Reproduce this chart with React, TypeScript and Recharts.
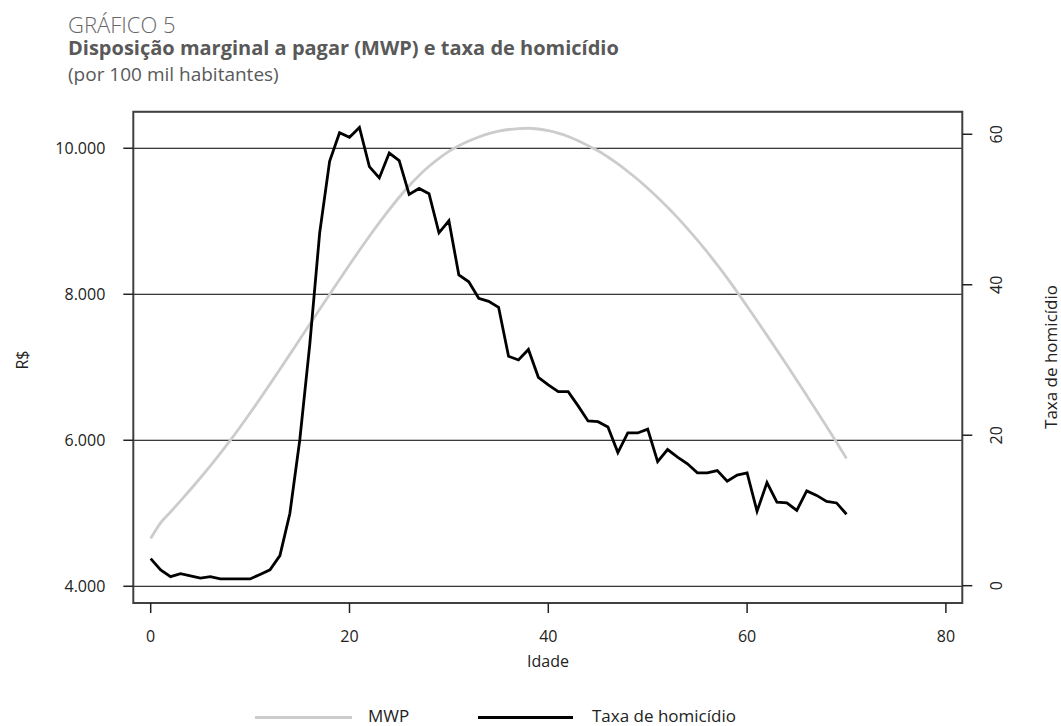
import React from 'react'
import {
  ComposedChart,
  Line,
  XAxis,
  YAxis,
  CartesianGrid,
  ReferenceArea,
} from 'recharts'

// idade (anos)
const ages = [
  0, 1, 2, 3, 4, 5, 6, 7, 8, 9, 10, 11, 12, 13, 14, 15, 16, 17, 18, 19, 20,
  21, 22, 23, 24, 25, 26, 27, 28, 29, 30, 31, 32, 33, 34, 35, 36, 37, 38, 39, 40,
  41, 42, 43, 44, 45, 46, 47, 48, 49, 50, 51, 52, 53, 54, 55, 56, 57, 58, 59, 60,
  61, 62, 63, 64, 65, 66, 67, 68, 69, 70,
]

// disposição marginal a pagar, R$
const mwp = [
  4654, 4868, 5018, 5170, 5326, 5486, 5650, 5820, 5998, 6182, 6373,
  6569, 6769, 6972, 7177, 7383, 7589, 7794, 7998, 8202, 8404,
  8602, 8795, 8981, 9159, 9329, 9487, 9628, 9753, 9863, 9958,
  10035, 10100, 10155, 10200, 10234, 10257, 10270, 10274, 10264, 10242,
  10208, 10162, 10104, 10035, 9967, 9880, 9785, 9682, 9572, 9453,
  9327, 9192, 9050, 8900, 8742, 8576, 8402, 8221, 8031, 7835,
  7637, 7437, 7235, 7030, 6823, 6613, 6402, 6188, 5972, 5750,
]

// taxa de homicídio por 100 mil habitantes
const taxa = [
  3.6, 2.1, 1.2, 1.6, 1.3, 1.0, 1.2, 0.9, 0.9, 0.9, 0.9,
  1.5, 2.1, 4.0, 9.6, 19.4, 32.0, 46.9, 56.4, 60.2, 59.6,
  60.9, 55.7, 54.2, 57.5, 56.5, 52.0, 52.8, 52.1, 46.9, 48.5,
  41.3, 40.4, 38.2, 37.8, 37.0, 30.5, 30.0, 31.4, 27.7, 26.7,
  25.8, 25.8, 23.9, 21.9, 21.8, 21.1, 17.7, 20.3, 20.3, 20.8,
  16.5, 18.1, 17.1, 16.2, 15.0, 15.0, 15.3, 13.9, 14.7, 15.0,
  9.9, 13.7, 11.1, 11.0, 10.0, 12.6, 12.0, 11.2, 11.0, 9.5,
]

const xTicks = [0, 20, 40, 60, 80]
const leftTicks = [4000, 6000, 8000, 10000]
const rightTicks = [0, 20, 40, 60]

const xDomain = [-1.75, 81.65]
const leftDomain = [3771, 10501]
const rightDomain = [-2.3, 63.0]

const data = ages.map((age, i) => ({ age, mwp: mwp[i], taxa: taxa[i] }))

const fmt = (v: number) => String(v).replace(/\B(?=(\d{3})+(?!\d))/g, '.')

const FONT = '"Open Sans", "Noto Sans", sans-serif'

function RightTick(props: any) {
  const { x, y, payload } = props
  const cx = x + 24
  return (
    <text
      x={cx}
      y={y}
      transform={`rotate(-90, ${cx}, ${y})`}
      textAnchor="middle"
      dominantBaseline="central"
      fontSize={16}
      fill="#222"
      fontFamily={FONT}
    >
      {payload.value}
    </text>
  )
}

export default function App() {
  return (
    <div
      style={{
        position: 'absolute',
        left: 0,
        top: 0,
        width: 1061,
        height: 726,
        background: '#fff',
        fontFamily: FONT,
        overflow: 'hidden',
      }}
    >
      <div style={{ position: 'absolute', left: 68, top: 13.2, fontSize: 22, lineHeight: 1, color: '#666', fontWeight: 300, whiteSpace: 'nowrap' }}>
        GRÁFICO 5
      </div>
      <div style={{ position: 'absolute', left: 68, top: 37.5, fontSize: 20, lineHeight: 1, color: '#595959', fontWeight: 700, whiteSpace: 'nowrap' }}>
        Disposição marginal a pagar (MWP) e taxa de homicídio
      </div>
      <div style={{ position: 'absolute', left: 68, top: 65, fontSize: 19, lineHeight: 1, color: '#595959', whiteSpace: 'nowrap' }}>
        (por 100 mil habitantes)
      </div>

      <div style={{ position: 'absolute', left: 0, top: 0 }}>
        <ComposedChart
          width={1061}
          height={726}
          data={data}
          margin={{ top: 111.7, right: 18.7, bottom: 83, left: 53.3 }}
        >
          <CartesianGrid yAxisId="left" vertical={false} stroke="#000" strokeWidth={1} />
          <XAxis
            dataKey="age"
            type="number"
            domain={xDomain}
            ticks={xTicks}
            allowDataOverflow
            axisLine={false}
            tickLine={{ stroke: '#222', strokeWidth: 1.5 }}
            tickSize={10}
            tickMargin={18}
            height={40}
            tick={{ fontSize: 16, fill: '#222', fontFamily: FONT }}
          />
          <YAxis
            yAxisId="left"
            orientation="left"
            type="number"
            domain={leftDomain}
            ticks={leftTicks}
            allowDataOverflow
            width={80}
            axisLine={false}
            tickLine={{ stroke: '#222', strokeWidth: 1.5 }}
            tickSize={10}
            tickMargin={18}
            tickFormatter={fmt}
            tick={{ fontSize: 16, fill: '#222', fontFamily: FONT }}
          />
          <YAxis
            yAxisId="right"
            orientation="right"
            type="number"
            domain={rightDomain}
            ticks={rightTicks}
            allowDataOverflow
            width={80}
            axisLine={false}
            tickLine={{ stroke: '#222', strokeWidth: 1.5 }}
            tickSize={10}
            tickMargin={0}
            tick={<RightTick />}
          />
          <ReferenceArea
            yAxisId="left"
            x1={xDomain[0]}
            x2={xDomain[1]}
            y1={leftDomain[0]}
            y2={leftDomain[1]}
            fill="none"
            fillOpacity={0}
            stroke="#404040"
            strokeWidth={2}
            ifOverflow="visible"
          />
          <Line
            yAxisId="left"
            dataKey="mwp"
            type="monotone"
            stroke="#cccccc"
            strokeWidth={2.8}
            dot={false}
            activeDot={false}
            isAnimationActive={false}
          />
          <Line
            yAxisId="right"
            dataKey="taxa"
            type="linear"
            stroke="#000"
            strokeWidth={2.8}
            dot={false}
            activeDot={false}
            isAnimationActive={false}
          />
        </ComposedChart>
      </div>

      {/* axis titles */}
      <div style={{ position: 'absolute', left: 22, top: 360, transform: 'translate(-50%, -50%) rotate(-90deg)', fontSize: 16, color: '#222', whiteSpace: 'nowrap' }}>
        R$
      </div>
      <div style={{ position: 'absolute', left: 548, top: 661, transform: 'translate(-50%, -50%)', fontSize: 16, color: '#222', whiteSpace: 'nowrap' }}>
        Idade
      </div>
      <div style={{ position: 'absolute', left: 1050, top: 357, transform: 'translate(-50%, -50%) rotate(-90deg)', fontSize: 17, color: '#222', whiteSpace: 'nowrap' }}>
        Taxa de homicídio
      </div>

      {/* legend */}
      <div style={{ position: 'absolute', left: 255, top: 715.5, width: 97, height: 3, background: '#cccccc' }} />
      <div style={{ position: 'absolute', left: 368, top: 715, transform: 'translateY(-50%)', fontSize: 17, color: '#222', whiteSpace: 'nowrap' }}>
        MWP
      </div>
      <div style={{ position: 'absolute', left: 478, top: 715.5, width: 95, height: 3, background: '#000' }} />
      <div style={{ position: 'absolute', left: 592, top: 715, transform: 'translateY(-50%)', fontSize: 17, color: '#222', whiteSpace: 'nowrap' }}>
        Taxa de homicídio
      </div>
    </div>
  )
}
